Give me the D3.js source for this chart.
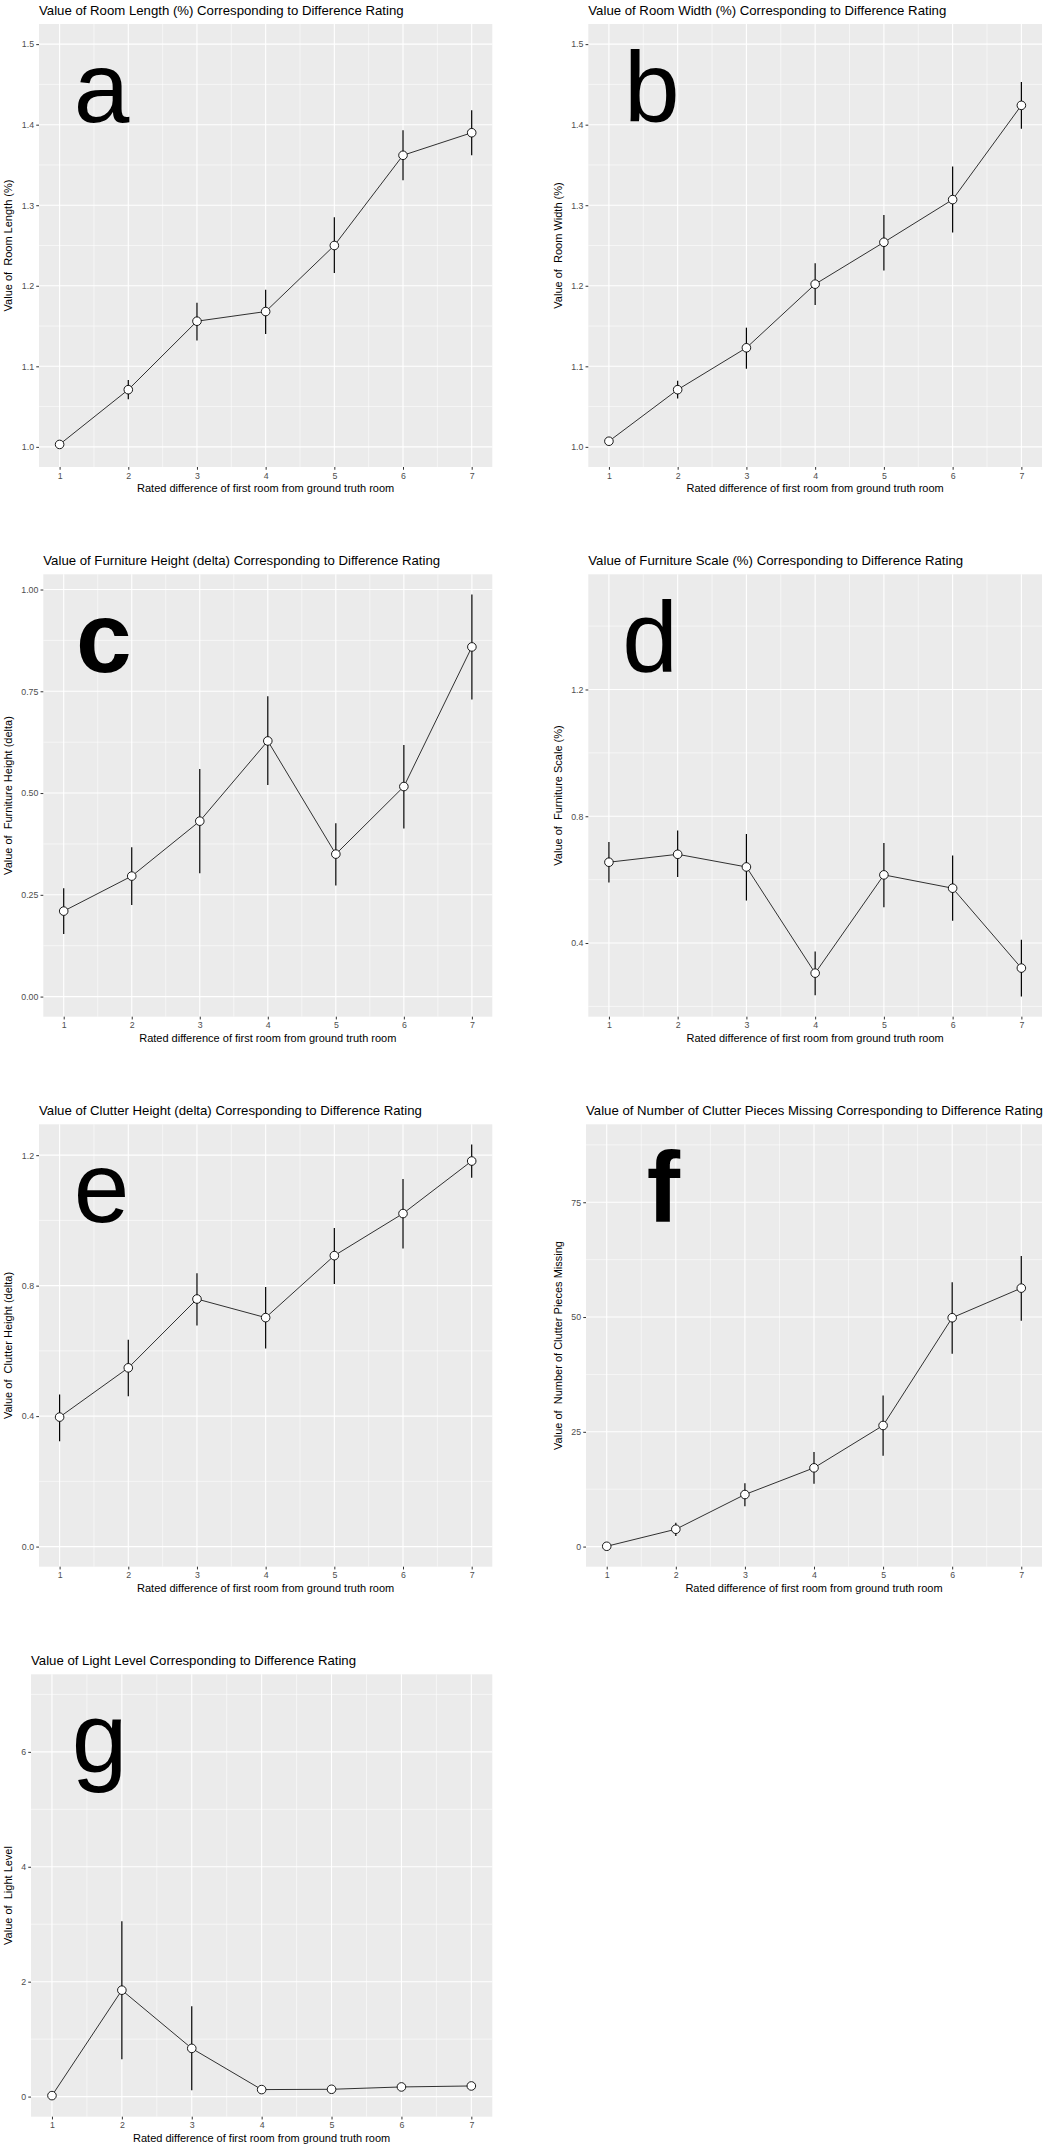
<!DOCTYPE html>
<html>
<head>
<meta charset="utf-8">
<script src="https://cdn.jsdelivr.net/npm/d3@7"></script>
<style>
  body { margin: 0; background: #fff; }
  text { font-family: "Liberation Sans", Arial, sans-serif; }
</style>
</head>
<body>
<svg id="chart"></svg>
<script>
// difference ratings on the x axis
var ratings = [1, 2, 3, 4, 5, 6, 7];

// a - room length (%)
var roomLengthMean = [1.003, 1.071, 1.156, 1.168, 1.250, 1.362, 1.390];
var roomLengthLow  = [1.003, 1.059, 1.132, 1.140, 1.216, 1.331, 1.362];
var roomLengthHigh = [1.003, 1.083, 1.179, 1.195, 1.285, 1.393, 1.418];
var roomLengthLimits = [1.0, 1.5];
var roomLengthTicks = [1.0, 1.1, 1.2, 1.3, 1.4, 1.5];
var roomLengthTickLabels = ["1.0", "1.1", "1.2", "1.3", "1.4", "1.5"];

// b - room width (%)
var roomWidthMean = [1.007, 1.071, 1.123, 1.202, 1.254, 1.307, 1.424];
var roomWidthLow  = [1.007, 1.060, 1.097, 1.176, 1.219, 1.266, 1.395];
var roomWidthHigh = [1.007, 1.082, 1.148, 1.228, 1.288, 1.348, 1.453];
var roomWidthLimits = [1.0, 1.5];
var roomWidthTicks = [1.0, 1.1, 1.2, 1.3, 1.4, 1.5];
var roomWidthTickLabels = ["1.0", "1.1", "1.2", "1.3", "1.4", "1.5"];

// c - furniture height (delta)
var furnHeightMean = [0.210, 0.296, 0.431, 0.628, 0.350, 0.516, 0.859];
var furnHeightLow  = [0.154, 0.225, 0.303, 0.520, 0.273, 0.413, 0.730];
var furnHeightHigh = [0.266, 0.367, 0.559, 0.738, 0.426, 0.618, 0.988];
var furnHeightLimits = [0, 0.988];
var furnHeightTicks = [0, 0.25, 0.5, 0.75, 1.0];
var furnHeightTickLabels = ["0.00", "0.25", "0.50", "0.75", "1.00"];

// d - furniture scale (%)
var furnScaleMean = [0.655, 0.680, 0.640, 0.305, 0.615, 0.573, 0.321];
var furnScaleLow  = [0.591, 0.608, 0.534, 0.235, 0.513, 0.470, 0.231];
var furnScaleHigh = [0.719, 0.755, 0.744, 0.373, 0.716, 0.676, 0.410];
var furnScaleLimits = [0.231, 1.5];
var furnScaleTicks = [0.4, 0.8, 1.2];
var furnScaleTickLabels = ["0.4", "0.8", "1.2"];

// e - clutter height (delta)
var clutterHeightMean = [0.397, 0.548, 0.759, 0.702, 0.892, 1.021, 1.182];
var clutterHeightLow  = [0.323, 0.461, 0.678, 0.607, 0.805, 0.914, 1.131];
var clutterHeightHigh = [0.466, 0.634, 0.838, 0.796, 0.977, 1.127, 1.233];
var clutterHeightLimits = [0, 1.233];
var clutterHeightTicks = [0, 0.4, 0.8, 1.2];
var clutterHeightTickLabels = ["0.0", "0.4", "0.8", "1.2"];

// f - number of clutter pieces missing
var clutterMissingMean = [0.07, 3.78, 11.34, 17.15, 26.38, 49.85, 56.3];
var clutterMissingLow  = [0.07, 2.3, 8.8, 13.7, 19.8, 42.0, 49.2];
var clutterMissingHigh = [0.07, 5.2, 13.8, 20.6, 32.9, 57.6, 63.3];
var clutterMissingLimits = [0, 87.6];
var clutterMissingTicks = [0, 25, 50, 75];
var clutterMissingTickLabels = ["0", "25", "50", "75"];

// g - light level
var lightLevelMean = [0.017, 1.852, 0.839, 0.122, 0.127, 0.168, 0.185];
var lightLevelLow  = [0.017, 0.648, 0.110, 0.110, 0.115, 0.155, 0.170];
var lightLevelHigh = [0.017, 3.050, 1.574, 0.134, 0.139, 0.181, 0.200];
var lightLevelLimits = [0, 7];
var lightLevelTicks = [0, 2, 4, 6];
var lightLevelTickLabels = ["0", "2", "4", "6"];

var xTitle = "Rated difference of first room from ground truth room";

// panel setup: texts, data and where each panel sits on the page
var panels = [
  {letter: "a", bold: false, letterX: 1.61, title: "Value of Room Length (%) Corresponding to Difference Rating",
   ylab: "Value of  Room Length (%)", mean: roomLengthMean, low: roomLengthLow, high: roomLengthHigh,
   limits: roomLengthLimits, ticks: roomLengthTicks, labels: roomLengthTickLabels,
   left: 39, right: 492.3, top: 24, bottom: 467, ylabX: 8.3},
  {letter: "b", bold: false, letterX: 1.625, title: "Value of Room Width (%) Corresponding to Difference Rating",
   ylab: "Value of  Room Width (%)", mean: roomWidthMean, low: roomWidthLow, high: roomWidthHigh,
   limits: roomWidthLimits, ticks: roomWidthTicks, labels: roomWidthTickLabels,
   left: 588.3, right: 1042, top: 24, bottom: 467, ylabX: 558.3},
  {letter: "c", bold: true, letterX: 1.59, title: "Value of Furniture Height (delta) Corresponding to Difference Rating",
   ylab: "Value of  Furniture Height (delta)", mean: furnHeightMean, low: furnHeightLow, high: furnHeightHigh,
   limits: furnHeightLimits, ticks: furnHeightTicks, labels: furnHeightTickLabels,
   left: 43.3, right: 492.3, top: 574.3, bottom: 1016.7, ylabX: 8.3},
  {letter: "d", bold: false, letterX: 1.6, title: "Value of Furniture Scale (%) Corresponding to Difference Rating",
   ylab: "Value of  Furniture Scale (%)", mean: furnScaleMean, low: furnScaleLow, high: furnScaleHigh,
   limits: furnScaleLimits, ticks: furnScaleTicks, labels: furnScaleTickLabels,
   left: 588.3, right: 1042, top: 574.3, bottom: 1016.7, ylabX: 558.3},
  {letter: "e", bold: false, letterX: 1.61, title: "Value of Clutter Height (delta) Corresponding to Difference Rating",
   ylab: "Value of  Clutter Height (delta)", mean: clutterHeightMean, low: clutterHeightLow, high: clutterHeightHigh,
   limits: clutterHeightLimits, ticks: clutterHeightTicks, labels: clutterHeightTickLabels,
   left: 39, right: 492.3, top: 1124.3, bottom: 1566.7, ylabX: 8.3},
  {letter: "f", bold: true, letterX: 1.82, title: "Value of Number of Clutter Pieces Missing Corresponding to Difference Rating",
   ylab: "Value of  Number of Clutter Pieces Missing", mean: clutterMissingMean, low: clutterMissingLow, high: clutterMissingHigh,
   limits: clutterMissingLimits, ticks: clutterMissingTicks, labels: clutterMissingTickLabels,
   left: 586, right: 1042, top: 1124.3, bottom: 1566.7, ylabX: 558.3},
  {letter: "g", bold: false, letterX: 1.68, title: "Value of Light Level Corresponding to Difference Rating",
   ylab: "Value of  Light Level", mean: lightLevelMean, low: lightLevelLow, high: lightLevelHigh,
   limits: lightLevelLimits, ticks: lightLevelTicks, labels: lightLevelTickLabels,
   left: 31, right: 492.3, top: 1674.3, bottom: 2116.7, ylabX: 8.3}
];

var svg = d3.select("#chart")
    .attr("width", 1050)
    .attr("height", 2150);

panels.forEach(drawPanel);

function drawPanel(p) {
    // ggplot style 5% expansion on both axes
    var xr = d3.extent(ratings), xpad = (xr[1] - xr[0]) * 0.05;
    var ypad = (p.limits[1] - p.limits[0]) * 0.05;

    var x = d3.scaleLinear().domain([xr[0] - xpad, xr[1] + xpad]).range([p.left, p.right]);
    var y = d3.scaleLinear().domain([p.limits[0] - ypad, p.limits[1] + ypad]).range([p.bottom, p.top]);

    var g = svg.append("g");

    // panel background
    g.append("rect")
      .attr("x", p.left).attr("y", p.top)
      .attr("width", p.right - p.left).attr("height", p.bottom - p.top)
      .attr("fill", "#EBEBEB");

    // minor grid
    var ystep = p.ticks[1] - p.ticks[0];
    var yMinor = [];
    for (var v = p.ticks[0] - ystep / 2; v <= p.ticks[p.ticks.length - 1] + ystep / 2 + 1e-9; v += ystep) {
        if (v >= y.domain()[0] && v <= y.domain()[1]) yMinor.push(v);
    }
    var xMinor = ratings.slice(0, -1).map(function(d) { return d + 0.5; });

    g.selectAll(".yminor").data(yMinor).enter().append("line")
      .attr("x1", p.left).attr("x2", p.right)
      .attr("y1", function(d) { return y(d); }).attr("y2", function(d) { return y(d); })
      .attr("stroke", "#fff").attr("stroke-width", 0.55);
    g.selectAll(".xminor").data(xMinor).enter().append("line")
      .attr("y1", p.top).attr("y2", p.bottom)
      .attr("x1", function(d) { return x(d); }).attr("x2", function(d) { return x(d); })
      .attr("stroke", "#fff").attr("stroke-width", 0.55);

    // major grid
    g.selectAll(".ymajor").data(p.ticks).enter().append("line")
      .attr("x1", p.left).attr("x2", p.right)
      .attr("y1", function(d) { return y(d); }).attr("y2", function(d) { return y(d); })
      .attr("stroke", "#fff").attr("stroke-width", 1.1);
    g.selectAll(".xmajor").data(ratings).enter().append("line")
      .attr("y1", p.top).attr("y2", p.bottom)
      .attr("x1", function(d) { return x(d); }).attr("x2", function(d) { return x(d); })
      .attr("stroke", "#fff").attr("stroke-width", 1.1);

    // big panel letter
    g.append("text")
      .attr("x", x(p.letterX))
      .attr("y", p.top + 97.5)
      .attr("text-anchor", "middle")
      .attr("font-size", "100px")
      .attr("font-weight", p.bold ? "bold" : "normal")
      .attr("fill", "#000")
      .text(p.letter);

    var rows = ratings.map(function(r, i) {
        return {x: r, mean: p.mean[i], low: p.low[i], high: p.high[i]};
    });

    // error bars
    g.selectAll(".err").data(rows).enter().append("line")
      .attr("x1", function(d) { return x(d.x); }).attr("x2", function(d) { return x(d.x); })
      .attr("y1", function(d) { return y(d.low); }).attr("y2", function(d) { return y(d.high); })
      .attr("stroke", "#000").attr("stroke-width", 1.2);

    // mean line
    var valueline = d3.line()
        .x(function(d) { return x(d.x); })
        .y(function(d) { return y(d.mean); });
    g.append("path")
      .datum(rows)
      .attr("d", valueline)
      .attr("fill", "none")
      .attr("stroke", "#000")
      .attr("stroke-width", 0.8);

    // points
    g.selectAll(".pt").data(rows).enter().append("circle")
      .attr("cx", function(d) { return x(d.x); })
      .attr("cy", function(d) { return y(d.mean); })
      .attr("r", 4.3)
      .attr("fill", "#fff")
      .attr("stroke", "#000")
      .attr("stroke-width", 0.9);

    // axes
    var yAxis = g.append("g")
      .attr("transform", "translate(" + p.left + ",0)")
      .call(d3.axisLeft(y).tickValues(p.ticks)
            .tickFormat(function(d, i) { return p.labels[i]; })
            .tickSize(2.75).tickPadding(2.2));
    var xAxis = g.append("g")
      .attr("transform", "translate(0," + p.bottom + ")")
      .call(d3.axisBottom(x).tickValues(ratings)
            .tickFormat(d3.format("d"))
            .tickSize(2.75).tickPadding(2.6));

    [yAxis, xAxis].forEach(function(a) {
        a.select(".domain").remove();
        a.selectAll(".tick line").attr("stroke", "#333333").attr("stroke-width", 1);
        a.selectAll(".tick text")
          .attr("fill", "#4D4D4D")
          .style("font-size", "8.8px")
          .style("font-family", "'Liberation Sans', Arial, sans-serif");
    });

    // titles
    g.append("text")
      .attr("x", p.left)
      .attr("y", p.top - 9)
      .attr("font-size", "13.2px")
      .attr("fill", "#000")
      .text(p.title);

    g.append("text")
      .attr("x", (p.left + p.right) / 2)
      .attr("y", p.bottom + 25)
      .attr("text-anchor", "middle")
      .attr("font-size", "11px")
      .attr("fill", "#000")
      .text(xTitle);

    g.append("text")
      .attr("transform", "translate(" + p.ylabX + "," + ((p.top + p.bottom) / 2) + ") rotate(-90)")
      .attr("dy", "0.35em")
      .attr("text-anchor", "middle")
      .attr("font-size", "11px")
      .attr("fill", "#000")
      .style("white-space", "pre")
      .text(p.ylab);
}
</script>
</body>
</html>
